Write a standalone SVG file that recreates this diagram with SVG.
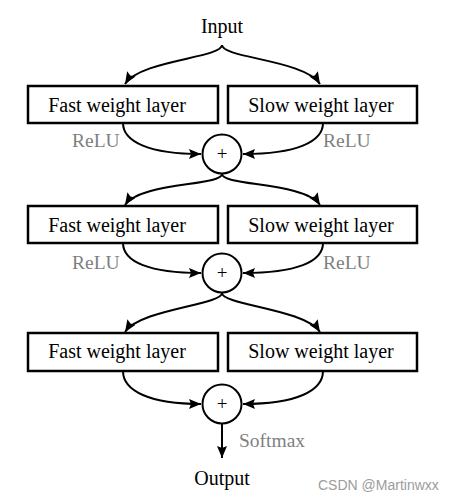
<svg xmlns="http://www.w3.org/2000/svg" width="453" height="500" viewBox="0 0 453 500">
<style>
.box{fill:#fff;stroke:#000;stroke-width:2.5}
.sum{fill:#fff;stroke:#000;stroke-width:2}
.t{font-family:"Liberation Serif","Times New Roman",serif;font-size:20px;fill:#000;text-anchor:middle}
.g{font-family:"Liberation Serif","Times New Roman",serif;font-size:19.5px;fill:#7f7f7f}
.plus{font-family:"Liberation Serif","Times New Roman",serif;font-size:19px;fill:#000;text-anchor:middle}
.c{fill:none;stroke:#000;stroke-width:2;marker-end:url(#ah)}
.wm{font-family:"Liberation Sans",Arial,sans-serif;font-size:14px;fill:#9c9c9c}
</style>
<defs>
<marker id="ah" markerUnits="userSpaceOnUse" markerWidth="14" markerHeight="12" refX="12" refY="5" orient="auto">
<path d="M0,0 L12,5 L0,10 L2,5 z" fill="#000"/>
</marker>
</defs>
<g id="input"><text class="t" x="222" y="33">Input</text></g>
<g id="connectors">
<path class="c" d="M222,45 C222,58 140,60 125,84"/>
<path class="c" d="M222,45 C222,58 305,60 320,84"/>
<path class="c" d="M123,123 C123,142 150,154 201,154"/>
<path class="c" d="M323,123 C323,142 296,154 243,154"/>
<path class="c" d="M222,174 C222,186 140,182 125,205"/>
<path class="c" d="M222,174 C222,186 305,182 320,205"/>
<path class="c" d="M123,243 C123,262 150,273 201,273"/>
<path class="c" d="M323,243 C323,262 296,273 243,273"/>
<path class="c" d="M222,293 C222,305 140,309 125,332"/>
<path class="c" d="M222,293 C222,305 305,309 320,332"/>
<path class="c" d="M123,371 C123,391 150,404 201,404"/>
<path class="c" d="M323,371 C323,391 296,404 243,404"/>
<path class="c" d="M222,424 L222,458"/>
</g>
<g id="fast1"><rect class="box" x="28" y="86" width="190" height="37"/><text class="t" x="117" y="112">Fast weight layer</text></g>
<g id="slow1"><rect class="box" x="228" y="86" width="189" height="37"/><text class="t" x="321" y="112">Slow weight layer</text></g>
<g id="relu1"><text class="g" x="72" y="147">ReLU</text><text class="g" x="323" y="147">ReLU</text></g>
<g id="sum1"><circle class="sum" cx="222" cy="154" r="19.5"/><text class="plus" x="222" y="160">+</text></g>
<g id="fast2"><rect class="box" x="28" y="206" width="190" height="37"/><text class="t" x="117" y="232">Fast weight layer</text></g>
<g id="slow2"><rect class="box" x="228" y="206" width="189" height="37"/><text class="t" x="321" y="232">Slow weight layer</text></g>
<g id="relu2"><text class="g" x="72" y="269">ReLU</text><text class="g" x="323" y="269">ReLU</text></g>
<g id="sum2"><circle class="sum" cx="222" cy="273" r="19.5"/><text class="plus" x="222" y="279">+</text></g>
<g id="fast3"><rect class="box" x="28" y="333" width="190" height="38"/><text class="t" x="117" y="358">Fast weight layer</text></g>
<g id="slow3"><rect class="box" x="228" y="333" width="189" height="38"/><text class="t" x="321" y="358">Slow weight layer</text></g>
<g id="sum3"><circle class="sum" cx="222" cy="404" r="19.5"/><text class="plus" x="222" y="410">+</text></g>
<g id="softmax"><text class="g" x="239" y="447">Softmax</text></g>
<g id="output"><text class="t" x="222" y="485">Output</text></g>
<text class="wm" x="318" y="490">CSDN @Martinwxx</text>
</svg>
